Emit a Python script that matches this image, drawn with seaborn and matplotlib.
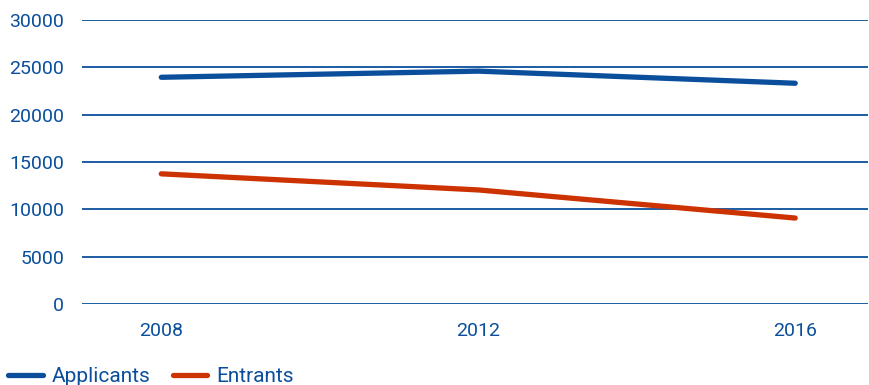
import matplotlib
matplotlib.use("Agg")
import matplotlib.pyplot as plt
from matplotlib.lines import Line2D
import seaborn as sns
import pandas as pd

years = ["2008", "2012", "2016"]
applicants = [23950, 24600, 23320]
entrants = [13750, 12050, 9080]
series_names = ["Applicants", "Entrants"]

BLUE = "#0b4f9c"
RED = "#cc3300"

sns.set_theme(style="white")
plt.rcParams["font.family"] = ["Roboto", "DejaVu Sans"]

df = pd.DataFrame({
    "year": years * 2,
    "idx": list(range(len(years))) * 2,
    "value": applicants + entrants,
    "series": [series_names[0]] * len(years) + [series_names[1]] * len(years),
})

fig = plt.figure(figsize=(8.69, 3.85), dpi=100)
ax = fig.add_axes([0.0944, 0.2104, 0.9046, 0.7376])

sns.lineplot(data=df, x="idx", y="value", hue="series",
             palette=[BLUE, RED], linewidth=3.8, ax=ax, legend=False,
             solid_capstyle="round")

ax.set_xlim(-0.25, 2.23)
ax.set_ylim(0, 30000)
ax.set_yticks(range(0, 30001, 5000))
ax.set_xticks(range(len(years)))
ax.set_xticklabels(years)
ax.set_xlabel("")
ax.set_ylabel("")
ax.grid(axis="y", color=BLUE, linewidth=1.3)
ax.set_axisbelow(True)
for s in ax.spines.values():
    s.set_visible(False)
ax.tick_params(axis="y", length=0, pad=13, labelsize=14, labelcolor=BLUE)
ax.tick_params(axis="x", length=0, pad=13, labelsize=14, labelcolor=BLUE)

handles = [Line2D([0], [0], color=BLUE, lw=3.8, solid_capstyle="round"),
           Line2D([0], [0], color=RED, lw=3.8, solid_capstyle="round")]
leg = fig.legend(handles, series_names, loc="lower left",
                 bbox_to_anchor=(0.0, -0.025), ncol=2, frameon=False,
                 fontsize=15, handlelength=1.65, handletextpad=0.45,
                 columnspacing=1.05, borderaxespad=0.0)
for t in leg.get_texts():
    t.set_color(BLUE)

fig.savefig("out.png", dpi=100)
